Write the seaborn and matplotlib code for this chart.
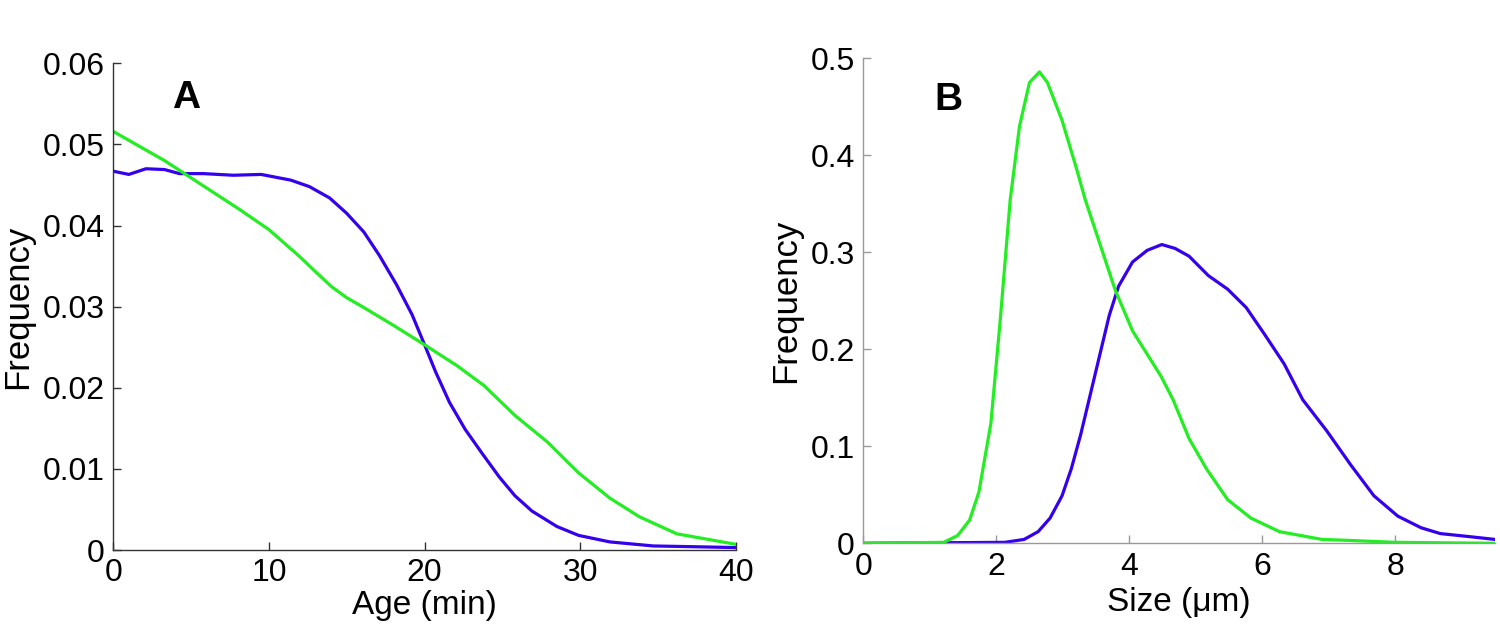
import matplotlib
matplotlib.use("Agg")
import matplotlib.pyplot as plt
import seaborn as sns
import pandas as pd

# ---- Panel A: age distribution ----
age_blue_x = [0, 1.0, 2.1, 3.3, 4.25, 5.8, 7.7, 9.5, 11.4, 12.6, 13.9, 15.0, 16.1, 17.1,
              18.2, 19.2, 20.0, 20.7, 21.6, 22.6, 23.7, 24.8, 25.8, 26.9, 28.5, 29.9,
              31.9, 34.7, 37.5, 40]
age_blue_y = [0.0467, 0.0463, 0.0470, 0.0469, 0.0464, 0.0464, 0.0462, 0.0463, 0.0456,
              0.0448, 0.0434, 0.0415, 0.0392, 0.0363, 0.0327, 0.0290, 0.0253, 0.0220,
              0.0182, 0.0149, 0.0119, 0.0090, 0.0067, 0.0048, 0.0029, 0.0018, 0.0010,
              0.0005, 0.0004, 0.0003]
age_green_x = [0, 3.3, 8.1, 10.0, 11.9, 13.0, 14.0, 15.0, 16.0, 18.0, 20.0, 22.1, 23.8,
               25.8, 27.9, 29.9, 31.9, 33.8, 36.2, 40]
age_green_y = [0.0516, 0.0480, 0.0420, 0.0395, 0.0363, 0.0343, 0.0325, 0.0311, 0.0300,
               0.0277, 0.0253, 0.0227, 0.0203, 0.0166, 0.0133, 0.0095, 0.0064, 0.0041,
               0.0020, 0.0007]

# ---- Panel B: size distribution ----
size_blue_x = [0, 2.13, 2.42, 2.63, 2.81, 2.99, 3.13, 3.27, 3.41, 3.56, 3.70, 3.84, 4.05,
               4.27, 4.49, 4.69, 4.90, 5.19, 5.48, 5.76, 6.04, 6.33, 6.61, 6.97, 7.33,
               7.68, 8.04, 8.39, 8.68, 9.1, 9.5]
size_blue_y = [0, 0.001, 0.004, 0.012, 0.026, 0.049, 0.077, 0.112, 0.152, 0.195, 0.235,
               0.265, 0.290, 0.302, 0.308, 0.304, 0.296, 0.276, 0.262, 0.243, 0.215,
               0.185, 0.148, 0.116, 0.081, 0.049, 0.028, 0.016, 0.010, 0.007, 0.004]
size_green_x = [0, 1.21, 1.42, 1.60, 1.74, 1.92, 2.06, 2.21, 2.35, 2.50, 2.65, 2.77, 2.99,
                3.20, 3.34, 3.63, 3.79, 4.05, 4.27, 4.48, 4.66, 4.90, 5.16, 5.48, 5.83,
                6.26, 6.9, 7.3, 8.0, 9.5]
size_green_y = [0, 0.001, 0.008, 0.024, 0.053, 0.124, 0.230, 0.354, 0.430, 0.475, 0.486,
                0.475, 0.436, 0.388, 0.354, 0.294, 0.261, 0.219, 0.195, 0.172, 0.148,
                0.108, 0.077, 0.045, 0.026, 0.012, 0.004, 0.003, 0.001, 0.0]

BLUE = "#3400ee"
GREEN = "#22ee22"

sns.set_theme(style="ticks")
plt.rcParams["font.family"] = ["Liberation Sans", "DejaVu Sans"]
plt.rcParams["text.color"] = "black"
plt.rcParams["axes.labelcolor"] = "black"
plt.rcParams["xtick.color"] = "black"
plt.rcParams["ytick.color"] = "black"

fig = plt.figure(figsize=(15, 6.4), dpi=100)
axA = fig.add_axes([0.0755, 0.1406, 0.4151, 0.7605])
axB = fig.add_axes([0.5755, 0.1511, 0.4211, 0.7578])

dfA = pd.concat([
    pd.DataFrame({"x": age_blue_x, "y": age_blue_y, "s": "blue"}),
    pd.DataFrame({"x": age_green_x, "y": age_green_y, "s": "green"}),
])
dfB = pd.concat([
    pd.DataFrame({"x": size_blue_x, "y": size_blue_y, "s": "blue"}),
    pd.DataFrame({"x": size_green_x, "y": size_green_y, "s": "green"}),
])
pal = {"blue": BLUE, "green": GREEN}

sns.lineplot(data=dfA, x="x", y="y", hue="s", palette=pal, sort=False,
             linewidth=2.3, legend=False, ax=axA, estimator=None)
sns.lineplot(data=dfB, x="x", y="y", hue="s", palette=pal, sort=False,
             linewidth=2.3, legend=False, ax=axB, estimator=None)

def style(ax, col):
    for s in ["top", "right"]:
        ax.spines[s].set_visible(False)
    for s in ["left", "bottom"]:
        ax.spines[s].set_color(col)
        ax.spines[s].set_linewidth(1.0)
    ax.tick_params(axis="both", direction="in", length=6, width=1.0, color=col,
                   labelsize=23, pad=6, labelcolor="black")
    ax.grid(False)

style(axA, "#333333")
style(axB, "#999999")

axA.set_xlim(0, 40)
axA.set_ylim(0, 0.06)
axA.set_xticks([0, 10, 20, 30, 40])
axA.set_yticks([0, 0.01, 0.02, 0.03, 0.04, 0.05, 0.06])
axA.set_yticklabels(["0", "0.01", "0.02", "0.03", "0.04", "0.05", "0.06"])
axA.set_xlabel("Age (min)", fontsize=24, labelpad=1, color="black")
axA.set_ylabel("Frequency", fontsize=25, labelpad=6, color="black")
axA.text(3.75, 0.0545, "A", fontsize=28, fontweight="bold", color="black")

axB.set_xlim(0, 9.5)
axB.set_ylim(0, 0.5)
axB.set_xticks([0, 2, 4, 6, 8])
axB.set_yticks([0, 0.1, 0.2, 0.3, 0.4, 0.5])
axB.set_yticklabels(["0", "0.1", "0.2", "0.3", "0.4", "0.5"])
axB.set_xlabel("Size (μm)", fontsize=24, labelpad=4, color="black")
axB.set_ylabel("Frequency", fontsize=25, labelpad=6, color="black")
axB.text(1.065, 0.4467, "B", fontsize=28, fontweight="bold", color="black")

fig.savefig("out.png", dpi=100)
